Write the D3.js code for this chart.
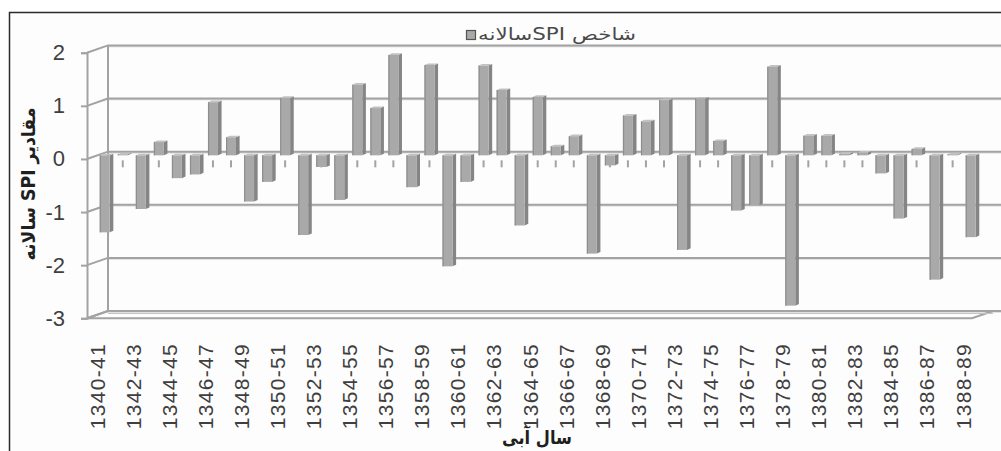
<!DOCTYPE html>
<html>
<head>
<meta charset="utf-8">
<script src="https://cdn.jsdelivr.net/npm/d3@7"></script>
<style>
  html, body { margin: 0; padding: 0; background: #ffffff; }
  svg { display: block; }
</style>
</head>
<body>
<svg id="chart" width="1001" height="451"></svg>
<script>
// Water years (hydrological years) of the record
const years = [
  "1340-41","1341-42","1342-43","1343-44","1344-45","1345-46","1346-47","1347-48",
  "1348-49","1349-50","1350-51","1351-52","1352-53","1353-54","1354-55","1355-56",
  "1356-57","1357-58","1358-59","1359-60","1360-61","1361-62","1362-63","1363-64",
  "1364-65","1365-66","1366-67","1367-68","1368-69","1369-70","1370-71","1371-72",
  "1372-73","1373-74","1374-75","1375-76","1376-77","1377-78","1378-79","1379-80",
  "1380-81","1381-82","1382-83","1383-84","1384-85","1385-86","1386-87","1387-88",
  "1388-89"
];

// Annual SPI value for each water year
const spi = [
  -1.45, 0.02, -1.01, 0.25, -0.43, -0.36, 1.00, 0.34,
  -0.87, -0.50, 1.08, -1.50, -0.22, -0.84, 1.33, 0.89,
  1.89, -0.60, 1.70, -2.09, -0.50, 1.69, 1.23, -1.32,
  1.10, 0.17, 0.36, -1.85, -0.19, 0.75, 0.64, 1.04,
  -1.78, 1.07, 0.27, -1.04, -0.94, 1.67, -2.83, 0.37,
  0.37, 0.03, 0.05, -0.34, -1.19, 0.12, -2.34, 0.02,
  -1.54
];

// Labelled categories on the horizontal axis (every second year)
const yearLabels = [
  "1340-41","1342-43","1344-45","1346-47","1348-49","1350-51","1352-53","1354-55",
  "1356-57","1358-59","1360-61","1362-63","1364-65","1366-67","1368-69","1370-71",
  "1372-73","1374-75","1376-77","1378-79","1380-81","1382-83","1384-85","1386-87",
  "1388-89"
];

const yTicks = [2, 1, 0, -1, -2, -3];

const seriesName = "شاخص SPIسالانه";
const yTitle = "مقادیر SPI سالانه";
const xTitle = "سال آبی";

const svg = d3.select("#chart");
const W = 1001, H = 451;

// Front plane of the 3-D box
const x = d3.scaleBand().domain(years).range([88, 972]).paddingInner(0).paddingOuter(0);
const y = d3.scaleLinear().domain([-3, 2]).range([318.3, 52.7]);

// Depth projection: back wall offset and bar plane offset
const backDx = 21, backDy = -7.3;
const barDx = 7.7, barDy = -3.6;

const gridColor = "#a3a3a3";
const textColor = "#3f3f3f";

// Background and outer frame
svg.append("rect").attr("x", 0).attr("y", 0).attr("width", W).attr("height", H).attr("fill", "#ffffff");
svg.append("rect").attr("x", 9.5).attr("y", 12.5).attr("width", W).attr("height", H)
  .attr("fill", "#fdfdfd").attr("stroke", "#2b2b2b").attr("stroke-width", 1.5);

const x0 = x.range()[0] - 1, x1 = x.range()[1];
const rightEdge = W;

// Back wall gridlines and side wall slants
const grid = svg.append("g");
yTicks.forEach(t => {
  const yf = y(t), yb = y(t) + backDy;
  grid.append("line").attr("x1", x0 + backDx).attr("x2", rightEdge).attr("y1", yb + 1.2).attr("y2", yb + 1.2)
    .attr("stroke", "#d8d8d8").attr("stroke-width", 1.2);
  grid.append("line").attr("x1", x0 + backDx).attr("x2", rightEdge).attr("y1", yb).attr("y2", yb)
    .attr("stroke", gridColor).attr("stroke-width", 2);
  grid.append("line").attr("x1", x0).attr("x2", x0 + backDx).attr("y1", yf).attr("y2", yb)
    .attr("stroke", gridColor).attr("stroke-width", 2);
});
// Back wall left edge
grid.append("line").attr("x1", x0 + backDx).attr("x2", x0 + backDx)
  .attr("y1", y(2) + backDy).attr("y2", y(-3) + backDy)
  .attr("stroke", gridColor).attr("stroke-width", 2);

// Floor slab
const floorY = y(-3);
grid.append("path")
  .attr("d", `M${x0},${floorY} L${x0 + backDx},${floorY + backDy} L${x1 + backDx},${floorY + backDy} L${x1},${floorY} Z`)
  .attr("fill", "none").attr("stroke", gridColor).attr("stroke-width", 2);
grid.append("line").attr("x1", x0 + backDx).attr("x2", x1 + backDx)
  .attr("y1", floorY + backDy + 2.5).attr("y2", floorY + backDy + 2.5)
  .attr("stroke", "#c4c4c4").attr("stroke-width", 1.2);

// Vertical value axis with ticks (plain hyphen for negatives)
const yAxis = d3.axisLeft(y).tickValues(yTicks).tickSize(6).tickPadding(16).tickFormat(d => String(d));
const gy = svg.append("g").attr("transform", `translate(${x0},0)`).call(yAxis);
gy.select(".domain").attr("stroke", gridColor).attr("stroke-width", 2);
gy.selectAll(".tick line").attr("stroke", gridColor).attr("stroke-width", 2);
gy.selectAll(".tick text")
  .attr("fill", textColor)
  .style("font-family", "'Liberation Sans', Arial, sans-serif")
  .style("font-size", "22px");

// Category ticks at the zero plane
const yb0 = y(0) + barDy;
svg.append("g").selectAll("line").data(years).join("line")
  .attr("x1", d => x(d) + x.bandwidth() / 2 + barDx)
  .attr("x2", d => x(d) + x.bandwidth() / 2 + barDx)
  .attr("y1", yb0 + 5).attr("y2", yb0 + 12)
  .attr("stroke", gridColor).attr("stroke-width", 2);

// 3-D columns
const barW = 10, sideW = 3.6, sideRise = 1.6;
const bars = svg.append("g").selectAll("g").data(years.map((d, i) => ({ year: d, v: spi[i] }))).join("g");
bars.each(function (d) {
  const g = d3.select(this);
  const cx = x(d.year) + x.bandwidth() / 2 + barDx;
  const left = cx - barW / 2, right = cx + barW / 2;
  const yv = y(d.v) + barDy, yz = y(0) + barDy;
  const top = Math.min(yv, yz), bot = Math.max(yv, yz);
  // side face
  g.append("path")
    .attr("d", `M${right},${top} L${right + sideW},${top - sideRise} L${right + sideW},${bot - sideRise} L${right},${bot} Z`)
    .attr("fill", "#858585");
  // top face
  g.append("path")
    .attr("d", `M${left},${top} L${left + sideW},${top - sideRise} L${right + sideW},${top - sideRise} L${right},${top} Z`)
    .attr("fill", "#c2c2c2");
  // front face
  g.append("rect").attr("x", left).attr("y", top).attr("width", barW).attr("height", Math.max(bot - top, 0.8))
    .attr("fill", "#a9a9a9");
  g.append("line").attr("x1", left + 0.6).attr("x2", left + 0.6).attr("y1", top).attr("y2", bot)
    .attr("stroke", "#8e8e8e").attr("stroke-width", 1.2);
});

// Horizontal category labels (every second year)
const labelY = 343;
svg.append("g").selectAll("text").data(yearLabels).join("text")
  .attr("transform", d => `translate(${x(d) + x.bandwidth() / 2},${labelY}) rotate(-90)`)
  .attr("text-anchor", "end")
  .attr("dy", "0.36em")
  .attr("fill", textColor)
  .style("font-family", "'Liberation Sans', Arial, sans-serif")
  .style("font-size", "21px")
  .style("letter-spacing", "1.3px")
  .text(d => d);

// Axis titles
svg.append("text")
  .attr("transform", "translate(28,184) rotate(-90)")
  .attr("text-anchor", "middle")
  .attr("direction", "rtl")
  .attr("dy", "0.35em")
  .attr("fill", "#1f1f1f")
  .attr("textLength", 153)
  .attr("lengthAdjust", "spacingAndGlyphs")
  .style("font-family", "'DejaVu Sans', sans-serif")
  .style("font-weight", "bold")
  .style("font-size", "19px")
  .text(yTitle);

svg.append("text")
  .attr("x", 537).attr("y", 437)
  .attr("text-anchor", "middle")
  .attr("direction", "rtl")
  .attr("dy", "0.35em")
  .attr("fill", "#1f1f1f")
  .attr("textLength", 70)
  .attr("lengthAdjust", "spacingAndGlyphs")
  .style("font-family", "'DejaVu Sans', sans-serif")
  .style("font-weight", "bold")
  .style("font-size", "19px")
  .text(xTitle);

// Legend
const legend = svg.append("g");
legend.append("rect").attr("x", 466.5).attr("y", 30.5).attr("width", 9).attr("height", 9)
  .attr("fill", "#a9a9a9").attr("stroke", "#555555").attr("stroke-width", 1.2);
legend.append("text")
  .attr("x", 557).attr("y", 34)
  .attr("text-anchor", "middle")
  .attr("direction", "rtl")
  .attr("dy", "0.35em")
  .attr("fill", "#4a4a4a")
  .attr("textLength", 158)
  .attr("lengthAdjust", "spacingAndGlyphs")
  .style("font-family", "'DejaVu Sans', sans-serif")
  .style("font-size", "17px")
  .text(seriesName);
</script>
</body>
</html>
